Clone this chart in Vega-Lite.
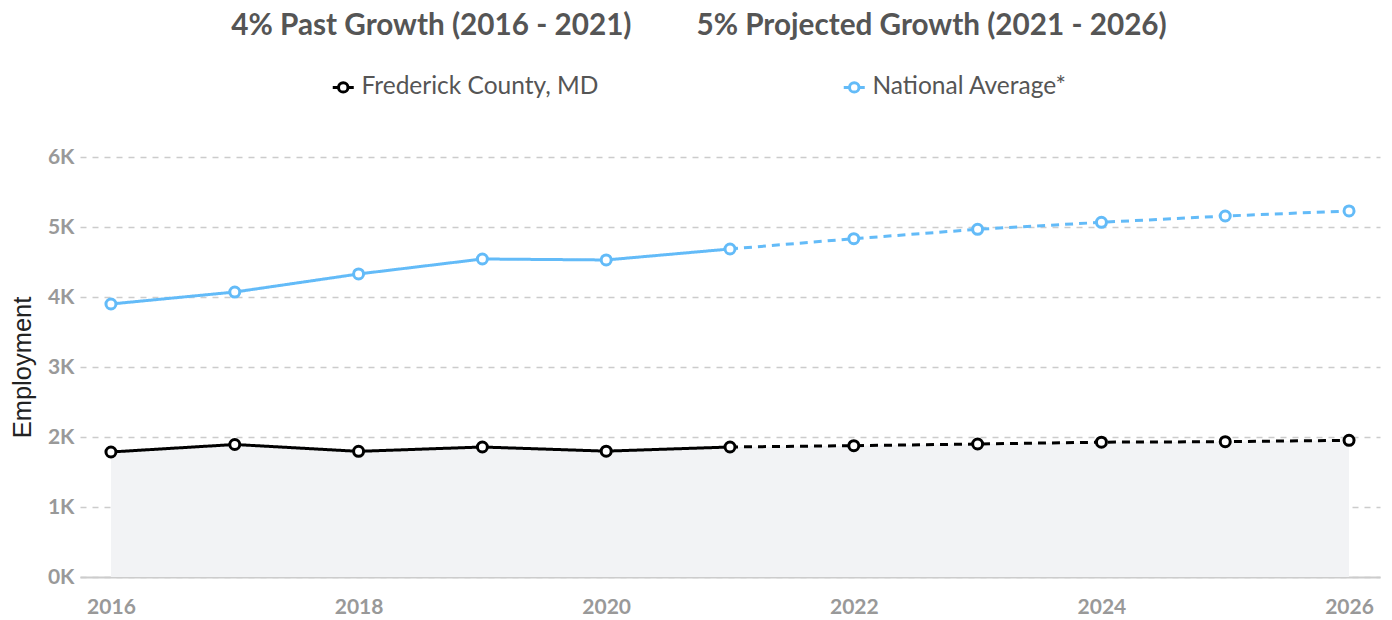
{
  "$schema": "https://vega.github.io/schema/vega-lite/v6.json",
  "width": 1300,
  "height": 420,
  "autosize": {"type": "none"},
  "padding": {"left": 80, "top": 157, "right": 12, "bottom": 43},
  "background": "white",
  "config": {"font": "Lato", "view": {"stroke": null}},
  "title": {
    "text": "4% Past Growth (2016 - 2021)\u00a0\u00a0\u00a0\u00a0\u00a0\u00a0\u00a0\u00a0\u00a05% Projected Growth (2021 - 2026)",
    "fontSize": 29.7,
    "fontWeight": "bold",
    "color": "#555555",
    "anchor": "middle",
    "frame": "group",
    "dx": -31,
    "offset": 33
  },
  "data": {
    "values": [
      {"year": 2016, "value": 1786, "series": "Frederick County, MD", "period": "past"},
      {"year": 2017, "value": 1893, "series": "Frederick County, MD", "period": "past"},
      {"year": 2018, "value": 1795, "series": "Frederick County, MD", "period": "past"},
      {"year": 2019, "value": 1857, "series": "Frederick County, MD", "period": "past"},
      {"year": 2020, "value": 1798, "series": "Frederick County, MD", "period": "past"},
      {"year": 2021, "value": 1857, "series": "Frederick County, MD", "period": "past"},
      {"year": 2021, "value": 1857, "series": "Frederick County, MD", "period": "projected"},
      {"year": 2022, "value": 1876, "series": "Frederick County, MD", "period": "projected"},
      {"year": 2023, "value": 1900, "series": "Frederick County, MD", "period": "projected"},
      {"year": 2024, "value": 1926, "series": "Frederick County, MD", "period": "projected"},
      {"year": 2025, "value": 1933, "series": "Frederick County, MD", "period": "projected"},
      {"year": 2026, "value": 1953, "series": "Frederick County, MD", "period": "projected"},
      {"year": 2016, "value": 3900, "series": "National Average*", "period": "past"},
      {"year": 2017, "value": 4071, "series": "National Average*", "period": "past"},
      {"year": 2018, "value": 4329, "series": "National Average*", "period": "past"},
      {"year": 2019, "value": 4543, "series": "National Average*", "period": "past"},
      {"year": 2020, "value": 4529, "series": "National Average*", "period": "past"},
      {"year": 2021, "value": 4686, "series": "National Average*", "period": "past"},
      {"year": 2021, "value": 4686, "series": "National Average*", "period": "projected"},
      {"year": 2022, "value": 4833, "series": "National Average*", "period": "projected"},
      {"year": 2023, "value": 4967, "series": "National Average*", "period": "projected"},
      {"year": 2024, "value": 5067, "series": "National Average*", "period": "projected"},
      {"year": 2025, "value": 5157, "series": "National Average*", "period": "projected"},
      {"year": 2026, "value": 5229, "series": "National Average*", "period": "projected"}
    ]
  },
  "encoding": {
    "x": {
      "field": "year",
      "type": "quantitative",
      "scale": {"domain": [2015.75, 2026.25], "nice": false, "zero": false},
      "axis": {
        "values": [2016, 2018, 2020, 2022, 2024, 2026],
        "format": "d",
        "grid": false,
        "domain": true,
        "domainColor": "#cccccc",
        "domainWidth": 2,
        "ticks": false,
        "labelColor": "#999999",
        "labelFontWeight": "bold",
        "labelFontSize": 21,
        "labelPadding": 19,
        "title": null
      }
    },
    "y": {
      "field": "value",
      "type": "quantitative",
      "scale": {"domain": [0, 6000], "nice": false},
      "axis": {
        "values": [0, 1000, 2000, 3000, 4000, 5000, 6000],
        "labelExpr": "datum.value / 1000 + 'K'",
        "grid": true,
        "gridDash": [6, 6],
        "gridColor": "#cccccc",
        "gridWidth": 1.5,
        "domain": false,
        "ticks": false,
        "labelColor": "#999999",
        "labelFontWeight": "bold",
        "labelFontSize": 21,
        "labelPadding": 6,
        "title": "Employment",
        "titleFont": "Liberation Sans",
        "titleFontSize": 25.5,
        "titleFontWeight": "normal",
        "titleColor": "#222222",
        "titlePadding": 12
      }
    }
  },
  "layer": [
    {
      "transform": [
        {"filter": "datum.series == 'Frederick County, MD' && (datum.period == 'past' || datum.year != 2021)"}
      ],
      "mark": {"type": "area", "color": "#f2f3f5"}
    },
    {
      "mark": {"type": "line", "strokeWidth": 3},
      "encoding": {
        "color": {
          "field": "series",
          "type": "nominal",
          "scale": {"domain": ["Frederick County, MD", "National Average*"], "range": ["#000000", "#63bbf8"]},
          "legend": {
            "orient": "none",
            "legendX": 251,
            "legendY": -82,
            "direction": "horizontal",
            "title": null,
            "symbolType": "M-1,0H-0.45M0.45,0H1M0.45,0A0.45,0.45,0,1,1,-0.45,0A0.45,0.45,0,1,1,0.45,0",
            "symbolSize": 441,
            "symbolStrokeWidth": 3,
            "symbolFillColor": "white",
            "labelFontSize": 24.5,
            "labelColor": "#555555",
            "labelLimit": 400,
            "labelOffset": 6,
            "columnPadding": 238
          }
        },
        "strokeDash": {
          "field": "period",
          "type": "nominal",
          "scale": {"domain": ["past", "projected"], "range": [[1, 0], [8, 6]]},
          "legend": null
        }
      }
    },
    {
      "transform": [
        {"filter": "datum.period == 'past' || datum.year != 2021"}
      ],
      "mark": {"type": "point", "shape": "circle", "filled": true, "fill": "white", "strokeWidth": 3, "size": 100, "opacity": 1},
      "encoding": {
        "stroke": {
          "field": "series",
          "type": "nominal",
          "scale": {"domain": ["Frederick County, MD", "National Average*"], "range": ["#000000", "#63bbf8"]},
          "legend": null
        }
      }
    }
  ]
}
